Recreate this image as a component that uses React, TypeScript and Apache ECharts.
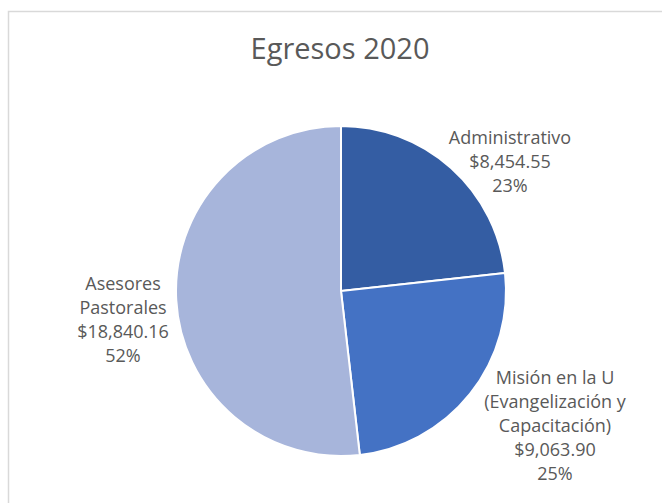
import React, { useEffect, useRef } from "react";
import * as echarts from "echarts";

const title = "Egresos 2020";
const categories = [
  "Administrativo",
  "Misión en la U\n(Evangelización y\nCapacitación)",
  "Asesores\nPastorales",
];
const values = [8454.55, 9063.9, 18840.16];
const colors = ["#345DA3", "#4472C4", "#A7B5DB"];

const fmtMoney = (v: number) =>
  "$" + v.toLocaleString("en-US", { minimumFractionDigits: 2, maximumFractionDigits: 2 });

export default function App() {
  const ref = useRef<HTMLDivElement>(null);
  useEffect(() => {
    if (!ref.current) return;
    const chart = echarts.init(ref.current, null, { renderer: "svg" });
    const labelPos = [
      { x: 510, y: 125 },
      { x: 555, y: 365 },
      { x: 123, y: 271 },
    ];
    chart.setOption({
      animation: false,
      backgroundColor: "#ffffff",
      title: {
        text: title,
        left: 335,
        textAlign: "center",
        top: 28,
        textStyle: {
          fontFamily: "Open Sans",
          fontSize: 29,
          fontWeight: "normal",
          color: "#595959",
        },
      },
      graphic: [
        {
          type: "rect",
          shape: { x: 8.5, y: 11.5, width: 700, height: 600 },
          style: { fill: "none", stroke: "#d9d9d9", lineWidth: 1.5 },
          silent: true,
        },
      ],
      series: [
        {
          type: "pie",
          center: [341, 291],
          radius: 165,
          startAngle: 90,
          clockwise: true,
          itemStyle: { borderColor: "#ffffff", borderWidth: 2 },
          label: {
            show: true,
            position: "outside",
            alignTo: "none",
            overflow: "none",
            width: 300,
            fontFamily: "Open Sans",
            fontSize: 18,
            lineHeight: 24,
            color: "#595959",
            align: "center",
            formatter: (p: any) =>
              `${p.name}\n${fmtMoney(p.value)}\n${Math.round(p.percent)}%`,
          },
          labelLine: { show: false },
          labelLayout: (params: any) => {
            const pos = labelPos[params.dataIndex];
            return {
              x: pos.x,
              y: pos.y,
              align: "center",
              verticalAlign: "top",
            };
          },
          data: categories.map((c, i) => ({
            name: c,
            value: values[i],
            itemStyle: { color: colors[i] },
          })),
        },
      ],
    });
    return () => chart.dispose();
  }, []);
  return (
    <div
      ref={ref}
      style={{ position: "fixed", left: 0, top: 0, width: 662, height: 503 }}
    />
  );
}
